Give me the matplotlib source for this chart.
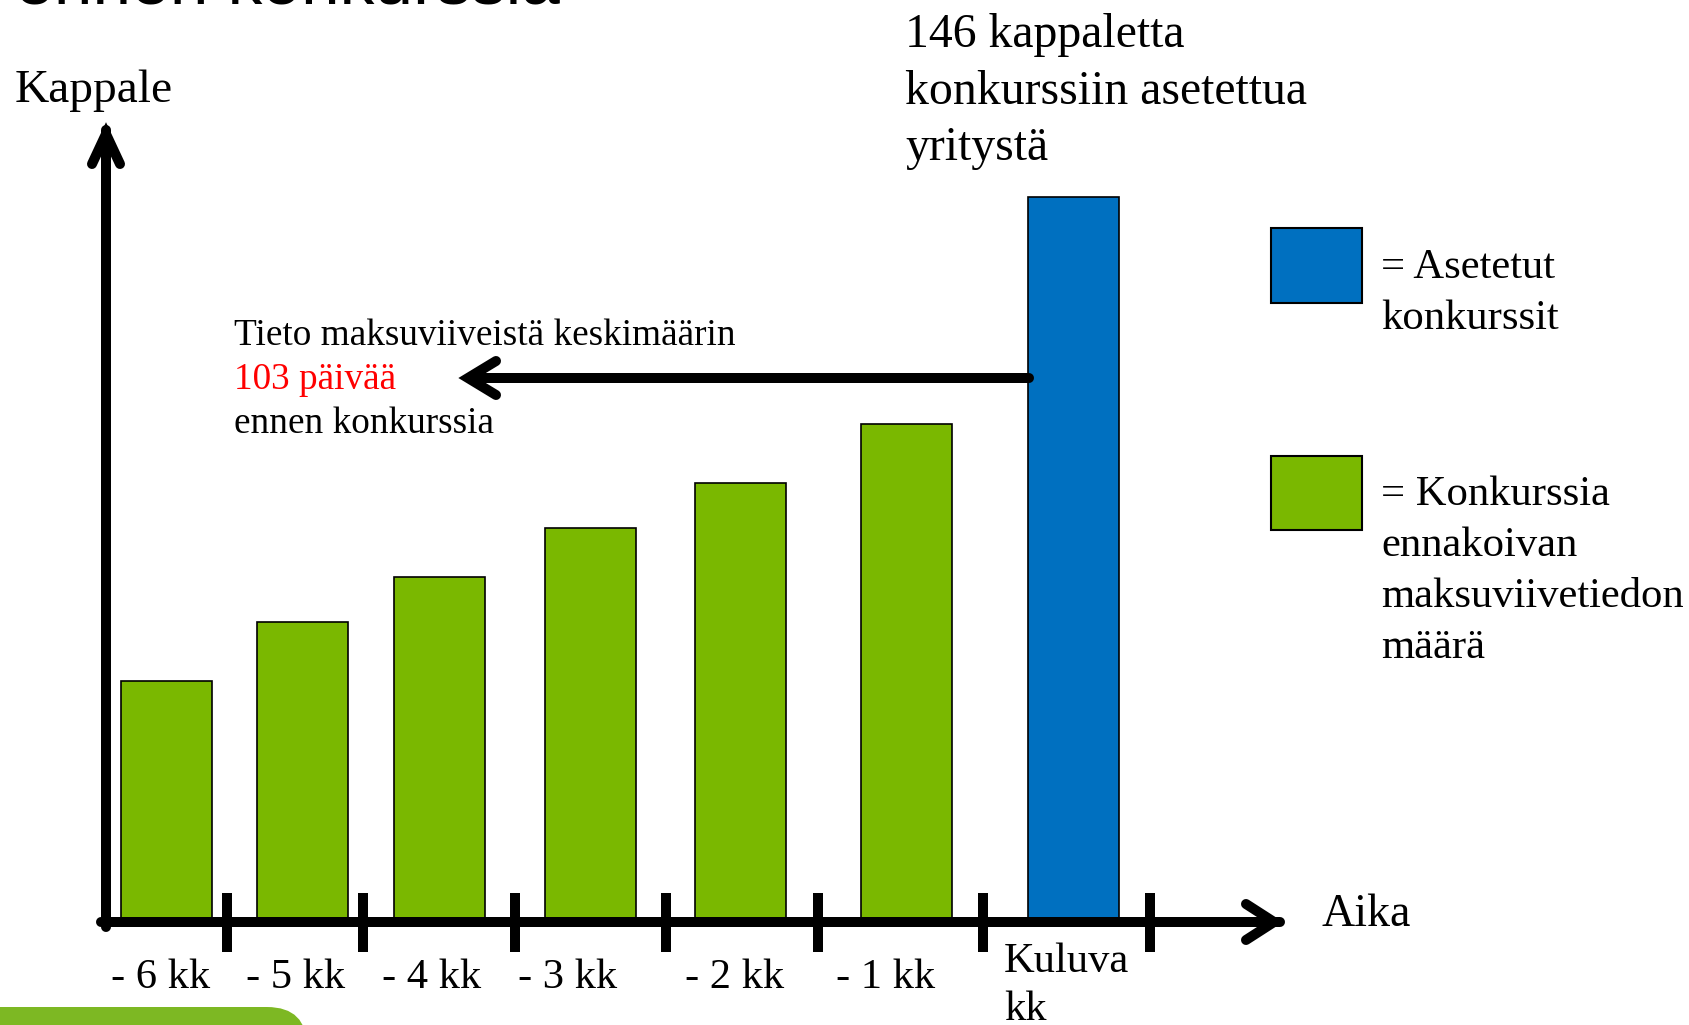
import matplotlib
matplotlib.use("Agg")
import matplotlib.pyplot as plt
from matplotlib.patches import Rectangle, FancyBboxPatch
import numpy as np

# ---------------- data ----------------
categories = ["- 6 kk", "- 5 kk", "- 4 kk", "- 3 kk", "- 2 kk", "- 1 kk", "Kuluva\nkk"]
warning_counts = [48, 60, 69, 79, 88, 100]          # green bars (months before)
bankruptcies = [146]                                # blue bar (current month)
legend_blue = ["= Asetetut", "konkurssit"]
legend_green = ["= Konkurssia", "ennakoivan", "maksuviivetiedon", "määrä"]
note_lines = ["Tieto maksuviiveistä keskimäärin", "103 päivää", "ennen konkurssia"]
top_note = ["146 kappaletta", "konkurssiin asetettua", "yritystä"]

# ---------------- layout (pixels of a 1689x1025 canvas) ----------------
W, H = 1689, 1025
SLOT_EDGES = [106, 227, 363, 515, 666, 818, 983, 1150]   # axis separators
BAR_X = [166.5, 302.5, 439.5, 590.5, 741, 907, 1074]     # bar centres
LABEL_X = [161, 296, 432, 568, 735, 886]
BASE_Y = 918            # pixel row of value 0
PX_PER_UNIT = 4.94      # vertical scale
BAR_W = 91
GREEN = "#7AB800"
BLUE = "#0070C0"
SERIF = ["Liberation Serif", "DejaVu Serif"]
LW = 7.2                # 10 px thick strokes

fig = plt.figure(figsize=(W / 100, H / 100), dpi=100)

# bar axes: x in canvas pixels, y in data units, bottom at the baseline
ax = fig.add_axes([0, (H - BASE_Y) / H, 1, BASE_Y / H])
ax.set_xlim(0, W)
ax.set_ylim(0, BASE_Y / PX_PER_UNIT)
ax.axis("off")

values = warning_counts + bankruptcies
colors = [GREEN] * len(warning_counts) + [BLUE] * len(bankruptcies)
ax.bar(BAR_X, values, width=BAR_W, color=colors, edgecolor="black", linewidth=1.2, zorder=2)

# decoration axes in pixel coordinates
deco = fig.add_axes([0, 0, 1, 1], zorder=3)
deco.set_xlim(0, W)
deco.set_ylim(H, 0)
deco.axis("off")
deco.patch.set_alpha(0)

def stroke(xs, ys):
    deco.plot(xs, ys, color="black", lw=LW, solid_joinstyle="miter",
              solid_capstyle="round", zorder=5)

# y axis with arrow
stroke([106, 106], [927, 130])
stroke([92, 106, 120], [164, 134, 164])
# x axis with arrow
stroke([101, 1280], [922, 922])
stroke([1246, 1274, 1246], [904, 922, 940])
# separators
for x in SLOT_EDGES[1:]:
    deco.plot([x, x], [893, 952], color="black", lw=LW, solid_capstyle="butt", zorder=5)

# average-delay arrow from the blue bar
stroke([1029, 470], [378, 378])
stroke([496, 468, 496], [361, 378, 395])

# texts
deco.text(15, 102, "Kappale", family=SERIF, fontsize=34.2, va="baseline")
deco.text(1322, 926, "Aika", family=SERIF, fontsize=33, va="baseline")
for i, line in enumerate(top_note):
    deco.text(905, 47 + i * 56.5, line, family=SERIF, fontsize=34.4, va="baseline")
for i, line in enumerate(note_lines):
    deco.text(234, 345 + i * 44, line, family=SERIF, fontsize=26.8, va="baseline",
              color="#FF0000" if i == 1 else "black")
for i, line in enumerate(legend_blue):
    deco.text(1381, 278 + i * 51, line, family=SERIF, fontsize=30.7, va="baseline")
for i, line in enumerate(legend_green):
    deco.text(1381, 505 + i * 51, line, family=SERIF, fontsize=30.7, va="baseline")

# category labels
for x, lab in zip(LABEL_X, categories[:-1]):
    deco.text(x, 988, lab, family=SERIF, fontsize=30.6, va="baseline", ha="center")
for i, line in enumerate(categories[-1].split("\n")):
    deco.text(1004, 972 + i * 48, line, family=SERIF, fontsize=30.6, va="baseline")

# legend swatches
deco.add_patch(Rectangle((1271, 228), 91, 75, facecolor=BLUE, edgecolor="black", lw=1.5, zorder=4))
deco.add_patch(Rectangle((1271, 456), 91, 74, facecolor=GREEN, edgecolor="black", lw=1.5, zorder=4))

# cut-off slide title and footer shape
deco.text(15, 4, "ennen konkurssia", family=["Liberation Sans", "DejaVu Sans"],
          fontsize=50, va="baseline")
deco.add_patch(FancyBboxPatch((-40, 1007), 347, 80, boxstyle="round,pad=0,rounding_size=40",
                              facecolor="#7DB823", edgecolor="none", zorder=1))

fig.savefig("out.png", dpi=100)
